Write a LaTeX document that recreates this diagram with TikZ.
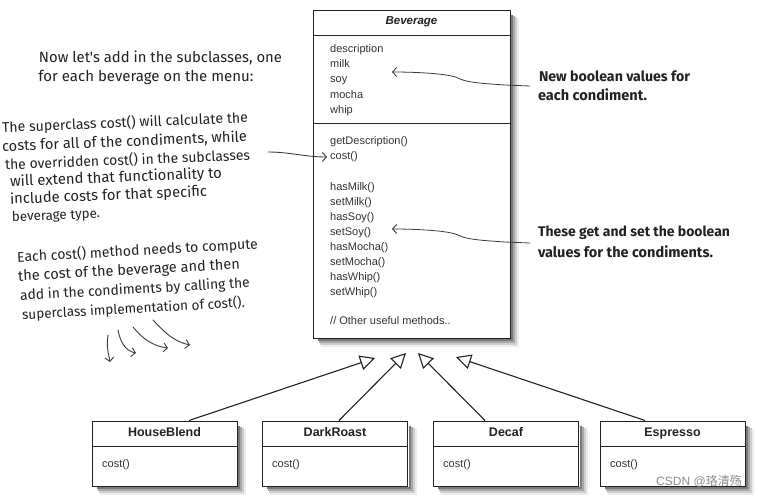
\documentclass[tikz,border=0pt]{standalone}
\usepackage{fontspec}
\setmainfont{Liberation Sans}
\newfontfamily\handfont{Fira Sans}
\newfontfamily\cjkfont{Noto Sans CJK SC}
\usetikzlibrary{arrows.meta}
\definecolor{ink}{HTML}{222222}
\definecolor{umltext}{HTML}{333333}
\definecolor{pencil}{HTML}{3C3C3C}
\definecolor{shA}{HTML}{7A7A7A}
\definecolor{shB}{HTML}{A8A8A8}
\definecolor{shC}{HTML}{CFCFCF}
\definecolor{shD}{HTML}{ECECEC}
\newcommand{\HWfit}[2]{\resizebox{#1}{!}{#2}}
\newcommand{\boxshadow}[1]{%
  \draw[shadowstroke, draw=shD] ([shift={(7.5,8)}]#1.north east) -- ([shift={(7.5,7.5)}]#1.south east) -- ([shift={(8,7.5)}]#1.south west);
  \draw[shadowstroke, draw=shC] ([shift={(5.5,7)}]#1.north east) -- ([shift={(5.5,5.5)}]#1.south east) -- ([shift={(7,5.5)}]#1.south west);
  \draw[shadowstroke, draw=shB] ([shift={(3.5,6)}]#1.north east) -- ([shift={(3.5,3.5)}]#1.south east) -- ([shift={(6,3.5)}]#1.south west);
  \draw[shadowstroke, draw=shA] ([shift={(1.6,5)}]#1.north east) -- ([shift={(1.6,1.6)}]#1.south east) -- ([shift={(5,1.6)}]#1.south west);
}
\begin{document}
\begin{tikzpicture}[x=1pt,y=-1pt,
 umlbox/.style={draw=ink, line width=1pt, fill=white, rectangle, inner sep=0pt},
 divider/.style={draw=ink, line width=0.9pt},
 member/.style={anchor=west, inner sep=0pt, font=\fontsize{11}{13}\selectfont, text=umltext, text height=8pt, text depth=2.5pt},
 ctitle/.style={inner sep=0pt, font=\fontsize{12.5}{14}\selectfont\bfseries, text=ink, text height=9pt, text depth=2.5pt},
 hand/.style={inner sep=0pt, font=\handfont\fontsize{12}{14}\selectfont, text=ink},
 handbold/.style={inner sep=0pt, font=\handfont\bfseries\fontsize{12}{14}\selectfont, text=ink},
 pencilline/.style={draw=pencil, line width=0.9pt, line cap=round},
 barb/.style={-{Straight Barb[length=4pt,width=9pt,line width=0.9pt]}},
 inherit/.style={draw=ink, line width=1.1pt, -{Triangle[open,length=15pt,width=15pt,line width=1.1pt]}},
 shadowstroke/.style={line width=2.2pt, line join=miter, line cap=butt},
]
\fill[white] (0,0) rectangle (758,498);
\useasboundingbox (0,0) rectangle (758,498);

% ---------- Beverage class ----------
\node[umlbox, minimum width=197pt, minimum height=328pt] (bev) at (411.5,174) {};
\boxshadow{bev}
\node[ctitle, font=\fontsize{11.5}{14}\selectfont\bfseries\itshape] (bevt) at (411.5,21) {Beverage};
\draw[divider] (bev.west |- 0,35) -- (bev.east |- 0,35);
\draw[divider] (bev.west |- 0,123) -- (bev.east |- 0,123);
\foreach \t/\y [count=\i] in {description/50, milk/65, soy/80, mocha/96, whip/111}
  \node[member] (attr\i) at (330,\y) {\t};
\foreach \t/\y [count=\i] in {{getDescription()}/142, {cost()}/157, {hasMilk()}/188, {setMilk()}/203,
   {hasSoy()}/218, {setSoy()}/233, {hasMocha()}/248, {setMocha()}/263, {hasWhip()}/278, {setWhip()}/293}
  \node[member] (meth\i) at (330,\y) {\t};
\node[member] (other) at (330,322) {// Other useful methods..};

% ---------- subclasses ----------
\node[umlbox, minimum width=145pt, minimum height=65pt] (hb) at (164.5,453.5) {};
\node[umlbox, minimum width=145pt, minimum height=65pt] (dr) at (335,453.5) {};
\node[umlbox, minimum width=145pt, minimum height=65pt] (dc) at (506,453.5) {};
\node[umlbox, minimum width=145pt, minimum height=65pt] (es) at (672.5,453.5) {};
\boxshadow{hb}
\boxshadow{dr}
\boxshadow{dc}
\boxshadow{es}
\foreach \n/\t/\x/\l in {hb/HouseBlend/164.5/102, dr/DarkRoast/335/272, dc/Decaf/506/443, es/Espresso/672.5/610} {
  \node[ctitle] (\n-t) at (\x,433) {\t};
  \draw[divider] (\n.west |- 0,446) -- (\n.east |- 0,446);
  \node[member] (\n-c) at (\l,465) {cost()};
}

% ---------- inheritance arrows ----------
\coordinate (tip1) at (375,358);
\coordinate (tip2) at (406,353);
\coordinate (tip3) at (418,353);
\coordinate (tip4) at (456,357);
\draw[inherit] (189,0 |- hb.north) -- (tip1);
\draw[inherit] (339,0 |- dr.north) -- (tip2);
\draw[inherit] (485,0 |- dc.north) -- (tip3);
\draw[inherit] (645,0 |- es.north) -- (tip4);

% ---------- handwritten notes ----------
\node[hand] (intro1) at (160.5,58) {\HWfit{243pt}{Now let's add in the subclasses, one}};
\node[hand] (intro2) at (146,77) {\HWfit{215pt}{for each beverage on the menu:}};

\node[hand, rotate=2.3] (c1) at (125,123) {\HWfit{246pt}{The superclass cost() will calculate the}};
\node[hand, rotate=2.3] (c2) at (124.5,142) {\HWfit{245pt}{costs for all of the condiments, while}};
\node[hand, rotate=2.3] (c3) at (127.5,160) {\HWfit{245pt}{the overridden cost() in the subclasses}};
\node[hand, rotate=2.3] (c4) at (116,178) {\HWfit{212pt}{will extend that functionality to}};
\node[hand, rotate=2.3] (c5) at (108.5,196) {\HWfit{197pt}{include costs for that specific}};
\node[hand, rotate=2.3] (c6) at (56,216) {\HWfit{88pt}{beverage type.}};

\node[hand, rotate=3.2] (e1) at (137.5,251) {\HWfit{241pt}{Each cost() method needs to compute}};
\node[hand, rotate=3.2] (e2) at (129,271) {\HWfit{222pt}{the cost of the beverage and then}};
\node[hand, rotate=3.2] (e3) at (135,290) {\HWfit{230pt}{add in the condiments by calling the}};
\node[hand, rotate=3.2] (e4) at (133.5,309) {\HWfit{223pt}{superclass implementation of cost().}};

\node[handbold] (n1) at (614.5,76) {\HWfit{151pt}{New boolean values for}};
\node[handbold] (n2) at (592.5,95) {\HWfit{109pt}{each condiment.}};
\node[handbold] (g1) at (634,233) {\HWfit{192pt}{These get and set the boolean}};
\node[handbold] (g2) at (625.5,252) {\HWfit{175pt}{values for the condiments.}};

% ---------- pencil arrows ----------
\coordinate (s1) at (268,152);
\draw[pencilline, barb, shorten >=3pt] (s1) .. controls (290,152) and (305,157) .. (meth2.west);

\coordinate (s2) at (530,86);
\coordinate (t2) at (392,72);
\draw[pencilline, line width=0.8pt, barb] (s2) -- (505,85) .. controls (475,83) and (466,82) .. (458,78)
   .. controls (450,74) and (420,72) .. (t2);
\coordinate (s3) at (530,243);
\coordinate (t3) at (392,229);
\draw[pencilline, line width=0.8pt, barb] (s3) -- (505,242) .. controls (475,240) and (466,239) .. (458,235)
   .. controls (450,231) and (420,229) .. (t3);

\coordinate (a1s) at (108,335); \coordinate (a1e) at (110,362);
\coordinate (a2s) at (118,330); \coordinate (a2e) at (136,353);
\coordinate (a3s) at (133,327); \coordinate (a3e) at (168,348);
\coordinate (a4s) at (153,320); \coordinate (a4e) at (190,345);
\draw[pencilline, barb] (a1s) .. controls (106,348) and (109,355) .. (a1e);
\draw[pencilline, barb] (a2s) .. controls (120,341) and (125,351) .. (a2e);
\draw[pencilline, barb] (a3s) .. controls (142,338) and (152,346) .. (a3e);
\draw[pencilline, barb] (a4s) .. controls (165,333) and (175,342) .. (a4e);

% ---------- watermark ----------
\node[inner sep=0pt, font=\fontsize{12}{14}\selectfont, text=black!45] (wm) at (699,481) {CSDN @{\cjkfont 珞清殇}};
\end{tikzpicture}
\end{document}
